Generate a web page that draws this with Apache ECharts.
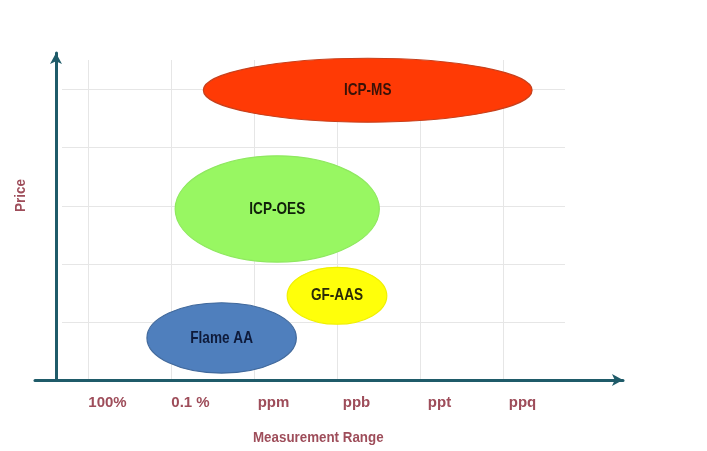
<!DOCTYPE html>
<html><head><meta charset="utf-8">
<script src="https://cdn.jsdelivr.net/npm/echarts@6/dist/echarts.min.js"></script>
<style>html,body{margin:0;padding:0;background:#fff}#c{width:707px;height:451px}</style>
</head><body><div id="c"></div>
<script>
// Measurement-range categories (x axis)
const categories = ['100%', '0.1 %', 'ppm', 'ppb', 'ppt', 'ppq'];
// Techniques and their extents (x in category units, y in price units)
const techniques = ['ICP-MS', 'ICP-OES', 'GF-AAS', 'Flame AA'];
const rangeMin = [1.39, 1.05, 2.40, 0.71];
const rangeMax = [5.35, 3.51, 3.60, 2.51];
const priceMin = [4.44, 2.03, 0.96, 0.12];
const priceMax = [5.54, 3.86, 1.94, 1.33];

const fills = ['#ff3a05', '#98f762', '#ffff0a', '#4f7fbd'];
const strokes = ['#c8401c', '#8fe860', '#f0f000', '#41699c'];
const textColors = ['#3a1208', '#10200a', '#2a2a08', '#0e1a3a'];

const axisColor = '#1f5b69';
const labelColor = '#9e4d5a';
const gridColor = '#e6e6e6';
const FONT = '"Liberation Sans", Arial, sans-serif';

const X_MIN = -0.3855, X_MAX = 5.747, LABEL_SHIFT = 0.235;

const data = techniques.map((t, i) => [rangeMin[i], rangeMax[i], priceMin[i], priceMax[i], i]);

const chart = echarts.init(document.getElementById('c'), null, {renderer: 'canvas'});
chart.setOption({
  backgroundColor: '#fff',
  animation: false,
  grid: [
    {left: 62, right: 142, top: 60, bottom: 71},
    {left: 35, right: 84, top: 60, bottom: 71},
    {left: 56, right: 142, top: 53, bottom: 71}
  ],
  xAxis: [
    {gridIndex: 0, type: 'value', position: 'bottom', min: X_MIN + 6 / 83, max: X_MAX, minInterval: 1, maxInterval: 1,
     axisLine: {show: false}, axisTick: {show: false}, axisLabel: {show: false},
     splitLine: {show: true, showMinLine: false, showMaxLine: false, lineStyle: {color: gridColor, width: 1}}},
    {gridIndex: 0, type: 'value', position: 'bottom', min: X_MIN + 6 / 83 - LABEL_SHIFT, max: X_MAX - LABEL_SHIFT,
     minInterval: 1, maxInterval: 1,
     axisLine: {show: false}, axisTick: {show: false}, splitLine: {show: false},
     axisLabel: {show: true, showMinLabel: false, showMaxLabel: false, margin: 15,
       color: labelColor, fontWeight: 'bold', fontSize: 15, fontFamily: FONT,
       formatter: function (v) {
         const r = Math.round(v);
         if (Math.abs(v - r) < 1e-6 && r >= 0 && r < categories.length) return categories[r];
         return '';
       }}},
    {gridIndex: 1, type: 'value', min: 0, max: 1,
     axisLine: {show: true, onZero: false, symbol: ['none', 'arrow'], symbolSize: [9, 11], lineStyle: {color: axisColor, width: 3}},
     axisTick: {show: false}, axisLabel: {show: false}, splitLine: {show: false}},
    {gridIndex: 2, type: 'value', min: 0, max: 1, show: false}
  ],
  yAxis: [
    {gridIndex: 0, type: 'value', min: 0, max: 5.51, interval: 1,
     axisLine: {show: false}, axisTick: {show: false}, axisLabel: {show: false},
     splitLine: {show: true, showMinLine: false, showMaxLine: false, lineStyle: {color: gridColor, width: 1}}},
    {gridIndex: 1, type: 'value', min: 0, max: 1, show: false},
    {gridIndex: 2, type: 'value', min: 0, max: 1,
     axisLine: {show: true, onZero: false, symbol: ['none', 'arrow'], symbolSize: [9, 11], lineStyle: {color: axisColor, width: 3}},
     axisTick: {show: false}, axisLabel: {show: false}, splitLine: {show: false}}
  ],
  graphic: [
    {type: 'text', x: 253, y: 430, scaleX: 0.89, style: {text: 'Measurement Range', fill: labelColor, font: 'bold 15px ' + FONT}},
    {type: 'text', x: 13, y: 212, rotation: Math.PI / 2, scaleX: 0.9, style: {text: 'Price', fill: labelColor, font: 'bold 15px ' + FONT}}
  ],
  series: [{
    type: 'custom',
    xAxisIndex: 0, yAxisIndex: 0,
    clip: false,
    data: data,
    renderItem: function (params, api) {
      const i = api.value(4);
      const p1 = api.coord([api.value(0), api.value(2)]);
      const p2 = api.coord([api.value(1), api.value(3)]);
      return {
        type: 'ellipse',
        shape: {cx: (p1[0] + p2[0]) / 2, cy: (p1[1] + p2[1]) / 2,
                rx: Math.abs(p2[0] - p1[0]) / 2, ry: Math.abs(p2[1] - p1[1]) / 2},
        style: {fill: fills[i], stroke: strokes[i], lineWidth: 1.2},
        textContent: {scaleX: 0.8, style: {text: techniques[i], fill: textColors[i], font: 'bold 17px ' + FONT}},
        textConfig: {position: 'inside'}
      };
    }
  }]
});
</script></body></html>
